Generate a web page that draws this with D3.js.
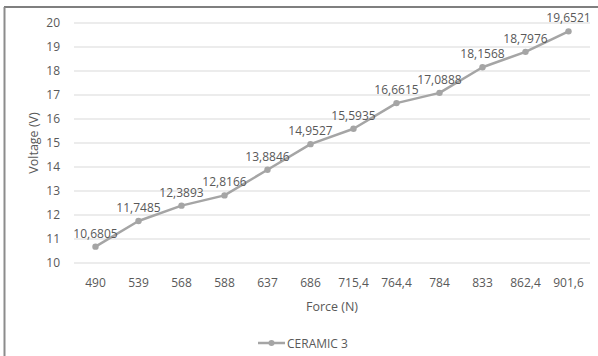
<!DOCTYPE html>
<html>
<head>
<meta charset="utf-8">
<script src="https://cdn.jsdelivr.net/npm/d3@7/dist/d3.min.js"></script>
<style>
  html, body { margin: 0; padding: 0; background: #fff; }
  svg { display: block; }
  text { font-family: "Open Sans", Lato, sans-serif; fill: #595959; }
</style>
</head>
<body>
<svg id="chart" width="598" height="356"></svg>
<script>
// Applied force (N) and the voltage measured for the ceramic sample
const forces = ["490", "539", "568", "588", "637", "686", "715,4", "764,4", "784", "833", "862,4", "901,6"];
const voltages = [10.6805, 11.7485, 12.3893, 12.8166, 13.8846, 14.9527, 15.5935, 16.6615, 17.0888, 18.1568, 18.7976, 19.6521];
const yTicks = [10, 11, 12, 13, 14, 15, 16, 17, 18, 19, 20];
const seriesName = "CERAMIC 3";

const W = 598, H = 356;
const margin = { top: 23, right: 8, bottom: 93, left: 74 };
const svg = d3.select("#chart");

// outer frame (top and left edges)
svg.append("line").attr("x1", 4).attr("x2", W).attr("y1", 7).attr("y2", 7)
  .attr("stroke", "#7f7f7f").attr("stroke-width", 2);
svg.append("line").attr("x1", 4.5).attr("x2", 4.5).attr("y1", 7).attr("y2", H)
  .attr("stroke", "#8c8c8c").attr("stroke-width", 2);

const x = d3.scaleBand().domain(forces).range([margin.left, W - margin.right]);
const y = d3.scaleLinear().domain([10, 20]).range([H - margin.bottom, margin.top]);

// horizontal gridlines
svg.append("g").selectAll("line").data(yTicks).join("line")
  .attr("x1", margin.left).attr("x2", W - margin.right)
  .attr("y1", d => y(d)).attr("y2", d => y(d))
  .attr("stroke", "#d9d9d9").attr("stroke-width", 1);

// y axis labels
const yAxis = svg.append("g").attr("transform", `translate(${margin.left - 8},0)`)
  .call(d3.axisLeft(y).tickValues(yTicks).tickSize(0).tickPadding(6).tickFormat(d3.format("d")));
yAxis.select(".domain").remove();
yAxis.selectAll("text").style("font-size", "12px").style("font-family", "'Open Sans', sans-serif").attr("fill", "#595959");

// x axis labels
const xAxis = svg.append("g").attr("transform", `translate(0,${H - margin.bottom})`)
  .call(d3.axisBottom(x).tickSize(0).tickPadding(15));
xAxis.select(".domain").remove();
xAxis.selectAll("text").style("font-size", "12px").style("font-family", "'Open Sans', sans-serif").attr("fill", "#595959");

// axis titles
svg.append("text").attr("x", (margin.left + W - margin.right) / 2).attr("y", 311)
  .attr("text-anchor", "middle").style("font-size", "12.5px").text("Force (N)");
svg.append("text")
  .attr("transform", `translate(38,${(y(10) + y(20)) / 2}) rotate(-90)`)
  .attr("text-anchor", "middle").style("font-size", "12.5px").text("Voltage (V)");

const cx = d => x(d) + x.bandwidth() / 2;
const pts = forces.map((f, i) => [cx(f), y(voltages[i])]);

// series line and markers
svg.append("path").attr("d", d3.line()(pts))
  .attr("fill", "none").attr("stroke", "#a5a5a5").attr("stroke-width", 2.5)
  .attr("stroke-linejoin", "round");
svg.append("g").selectAll("circle").data(pts).join("circle")
  .attr("cx", d => d[0]).attr("cy", d => d[1]).attr("r", 3.2).attr("fill", "#a5a5a5");

// value labels above each point
const fmt = v => v.toFixed(4).replace(".", ",");
svg.append("g").selectAll("text").data(voltages).join("text")
  .attr("x", (d, i) => pts[i][0]).attr("y", (d, i) => pts[i][1] - 9)
  .attr("text-anchor", "middle").style("font-size", "12px").text(d => fmt(d));

// legend
const lg = svg.append("g").attr("transform", "translate(258,343)");
lg.append("line").attr("x1", 0).attr("x2", 27).attr("stroke", "#a5a5a5").attr("stroke-width", 2.5);
lg.append("circle").attr("cx", 13.5).attr("r", 3).attr("fill", "#a5a5a5");
lg.append("text").attr("x", 29).attr("y", 4.5).style("font-size", "12px").text(seriesName);
</script>
</body>
</html>
